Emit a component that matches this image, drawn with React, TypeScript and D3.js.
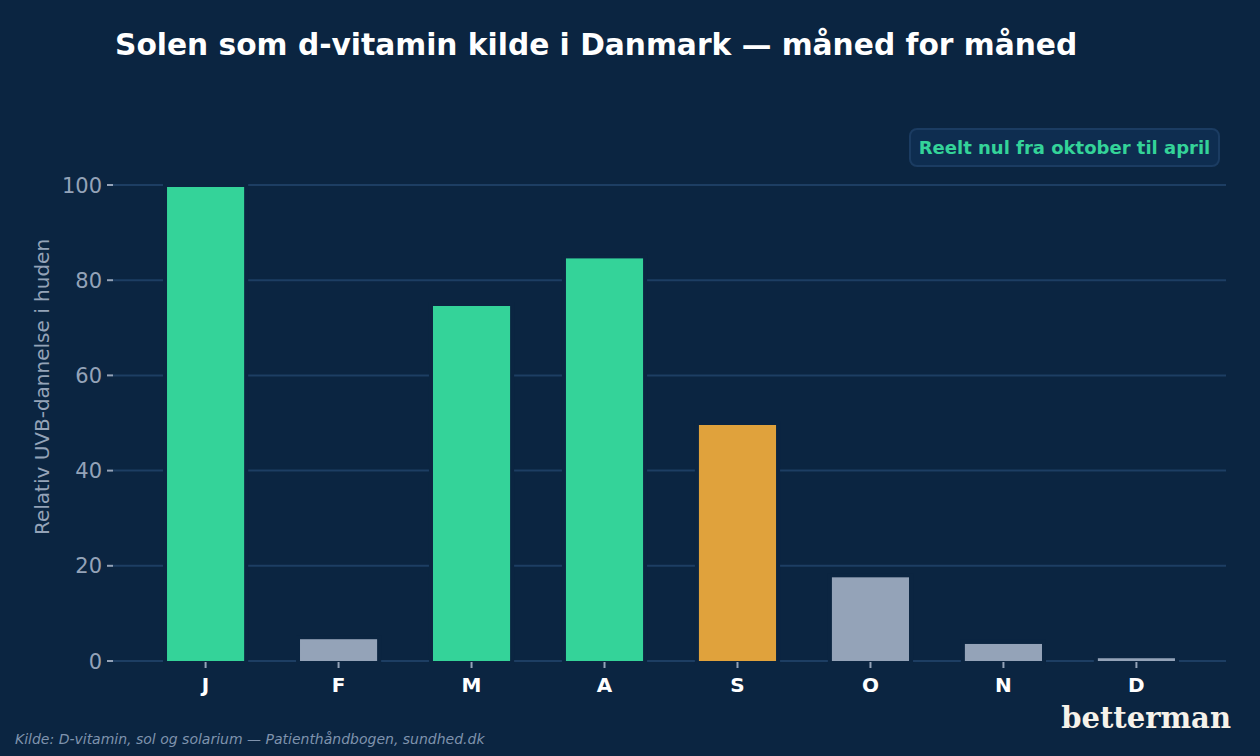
import React from 'react';
import * as d3 from 'd3';

// Relative UVB skin production, month by month (Jun-Dec shown by the original labels)
const months = ['J', 'F', 'M', 'A', 'S', 'O', 'N', 'D'];
const uvb = [100, 5, 75, 85, 50, 18, 4, 1];
const kinds = ['high', 'low', 'high', 'high', 'mid', 'low', 'low', 'low'];
const yTicks = [0, 20, 40, 60, 80, 100];

const colors: Record<string, string> = {
  high: '#34d399',
  mid: '#e0a23c',
  low: '#94a3b8',
};

const BG = '#0b2541';
const GRID = '#1d3e63';
const MUTED = '#94a3b8';

export default function App() {
  const width = 1260;
  const height = 756;
  const margin = { top: 185, right: 34, bottom: 95, left: 113 };

  const x = d3
    .scaleBand<string>()
    .domain(months)
    .range([margin.left + 1.5, width - margin.right + 1.5])
    .paddingInner(0)
    .paddingOuter(0.185);

  const y = d3
    .scaleLinear()
    .domain([0, 100])
    .range([height - margin.bottom, margin.top]);

  const barW = x.bandwidth() * 0.61;

  return (
    <svg
      width={width}
      height={height}
      style={{ position: 'absolute', left: 0, top: 0, background: BG }}
      fontFamily="DejaVu Sans, sans-serif"
    >
      <rect x={0} y={0} width={width} height={height} fill={BG} />

      {/* title */}
      <text x={115} y={55} fill="#ffffff" fontSize={29.7} fontWeight="bold">
        Solen som d-vitamin kilde i Danmark — måned for måned
      </text>

      {/* grid + y ticks */}
      {yTicks.map(t => (
        <g key={t}>
          <line
            x1={margin.left}
            x2={width - margin.right}
            y1={y(t)}
            y2={y(t)}
            stroke={GRID}
            strokeWidth={2}
          />
          <line x1={margin.left - 6} x2={margin.left} y1={y(t)} y2={y(t)} stroke={MUTED} strokeWidth={2} />
          <text
            x={margin.left - 11}
            y={y(t)}
            dy="0.36em"
            textAnchor="end"
            fill={MUTED}
            fontSize={21}
          >
            {t}
          </text>
        </g>
      ))}

      {/* y axis label */}
      <text
        transform={`translate(49,387) rotate(-90)`}
        textAnchor="middle"
        fill={MUTED}
        fontSize={20}
      >
        Relativ UVB-dannelse i huden
      </text>

      {/* bars */}
      {months.map((m, i) => {
        const cx = (x(m) as number) + x.bandwidth() / 2;
        return (
          <rect
            key={m}
            x={cx - barW / 2}
            y={y(uvb[i])}
            width={barW}
            height={y(0) - y(uvb[i]) + 2}
            fill={colors[kinds[i]]}
            stroke={BG}
            strokeWidth={4}
          />
        );
      })}

      {/* x ticks + labels */}
      {months.map(m => {
        const cx = (x(m) as number) + x.bandwidth() / 2;
        return (
          <g key={m}>
            <line x1={cx} x2={cx} y1={y(0) + 1} y2={y(0) + 7} stroke={MUTED} strokeWidth={2} />
            <text x={cx} y={692} textAnchor="middle" fill="#ffffff" fontSize={20} fontWeight="bold">
              {m}
            </text>
          </g>
        );
      })}

      {/* annotation */}
      <rect x={910} y={129} width={309} height={37} rx={7} fill="#0e2d50" stroke="#1b3c62" strokeWidth={2} />
      <text x={1064.5} y={153.5} textAnchor="middle" fill="#34d399" fontSize={18} fontWeight="bold">
        Reelt nul fra oktober til april
      </text>

      {/* footer */}
      <text x={15} y={744} fill="#7f93ad" fontSize={14} fontStyle="italic">
        Kilde: D-vitamin, sol og solarium — Patienthåndbogen, sundhed.dk
      </text>
      <text
        x={1231}
        y={728}
        textAnchor="end"
        fill="#f6f2ea"
        fontSize={29}
        fontWeight="bold"
        fontFamily="DejaVu Serif, serif"
      >
        betterman
      </text>
    </svg>
  );
}
